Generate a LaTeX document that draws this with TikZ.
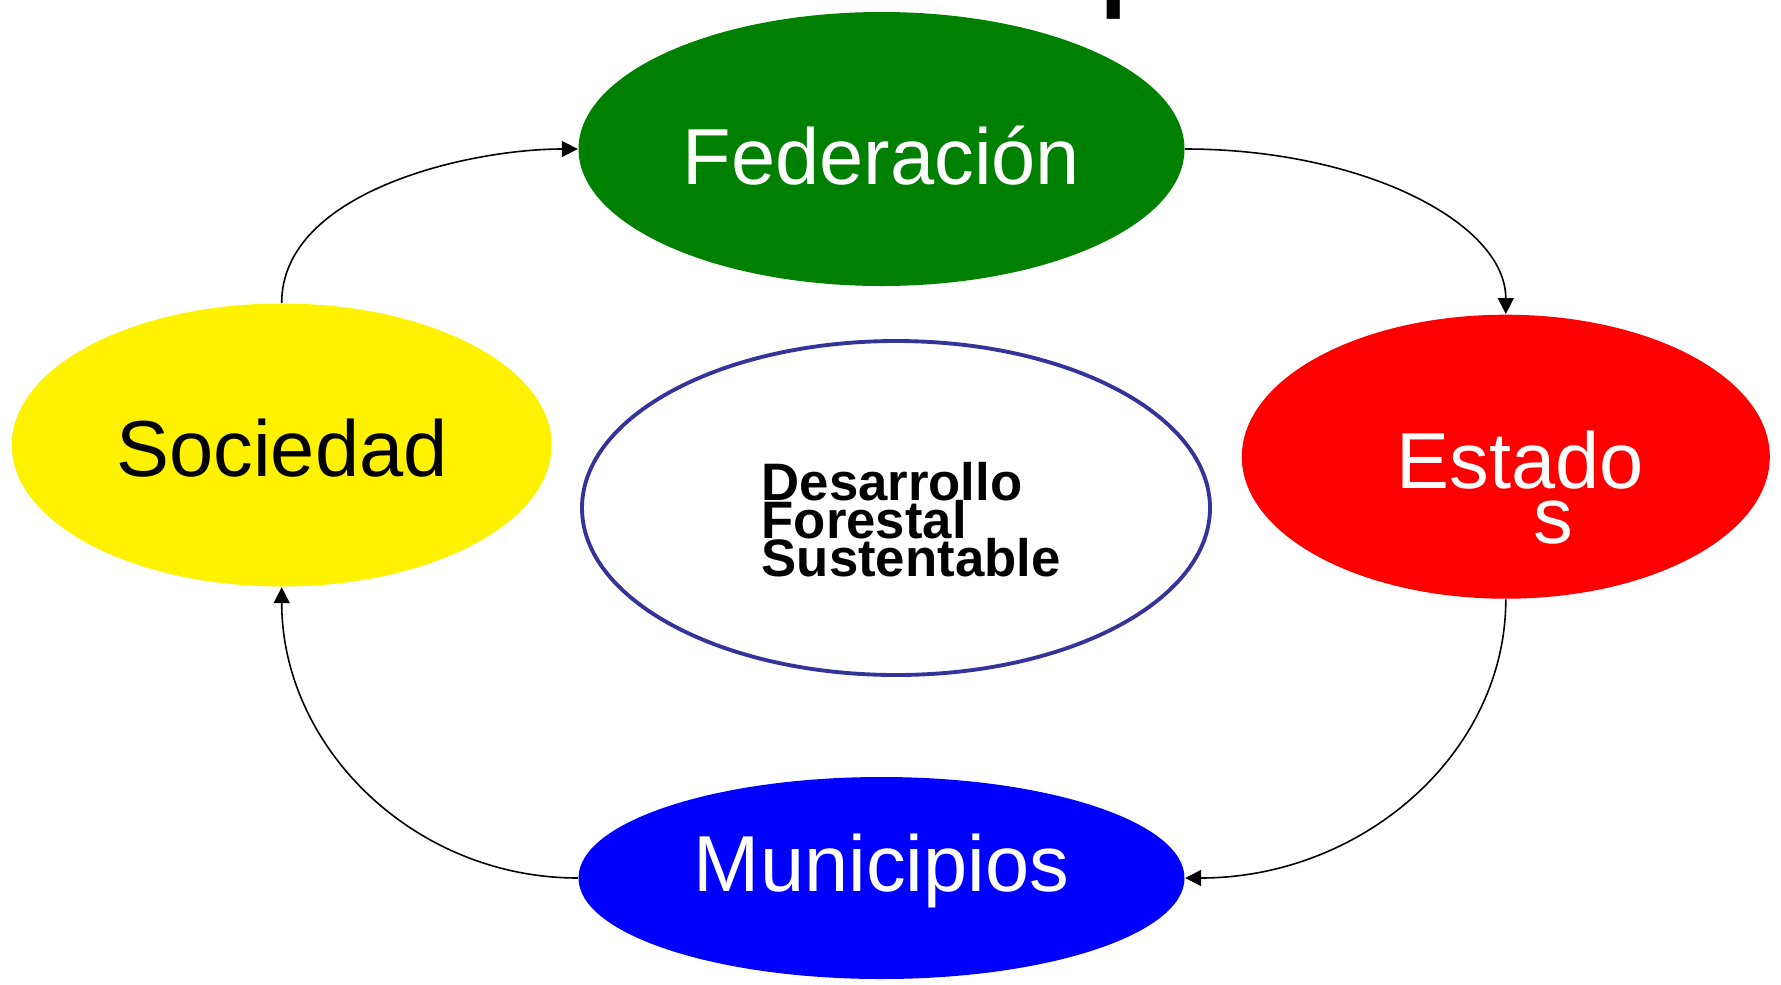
\documentclass[tikz,border=0pt]{standalone}
\usepackage{fontspec}
\setmainfont{Liberation Sans}
\usepackage{tikz}
\usetikzlibrary{arrows.meta,shapes.geometric}
\definecolor{fedgreen}{RGB}{0,128,0}
\definecolor{dfsblue}{RGB}{51,51,153}
\newcommand{\tightlines}{\lineskiplimit=-10pt\relax}
\tikzset{
  oval/.style={ellipse, inner sep=0pt},
  lbl/.style={font=\fontsize{22.6}{15.6}\selectfont, inner sep=0pt, anchor=base},
  flow/.style={-{Triangle[length=4.5pt,width=4.5pt]}, line width=0.45pt},
}

\begin{document}
\begin{tikzpicture}
\useasboundingbox (0,0) rectangle (17.81,-9.84);
\clip (0,0) rectangle (17.81,-9.84);
% title, only its lower edge is in the picture
\node[font=\fontsize{27.2}{33}\selectfont\bfseries, anchor=base, inner sep=0pt] (ttl) at (8.62,0.005) {Distribución de competencias};
% the five ovals
\node[oval, fill=fedgreen, minimum width=6.06cm, minimum height=2.74cm] (fed) at (8.815,-1.49) {};
\node[oval, fill=yellow, minimum width=5.40cm, minimum height=2.83cm] (soc) at (2.817,-4.45) {};
\node[oval, fill=red, minimum width=5.28cm, minimum height=2.84cm] (est) at (15.058,-4.567) {};
\node[oval, fill=blue, minimum width=6.06cm, minimum height=2.02cm] (mun) at (8.815,-8.78) {};
\node[oval, draw=dfsblue, line width=1.1pt, minimum width=6.28cm, minimum height=3.34cm] (dfs) at (8.96,-5.08) {};
% texts
\node[lbl, text=white] (fedlbl) at (8.815,-1.84) {Federación};
\node[lbl] (soclbl) at (2.82,-4.76) {Sociedad};
\node[lbl, text=white] (munlbl) at (8.815,-8.91) {Municipios};
\node[lbl, text=white, align=center, anchor=north] (estlbl) at (15.20,-4.307) {Estado\\\hspace*{0.85em}s};
\node[font=\fontsize{15}{10.7}\selectfont\bfseries\tightlines, align=left, anchor=north west, inner sep=0pt] (dfslbl) at (7.61,-4.62) {Desarrollo\\Forestal\\Sustentable};
% arrows round the cycle
\draw[flow] (soc.north) to [out=90,in=180,looseness=0.85] (fed.west);
\draw[flow] (fed.east) .. controls +(1.77,0) and +(0,0.915) .. (est.north);
\draw[flow] (est.south) .. controls +(0,-1.54) and +(1.77,0) .. (mun.east);
\draw[flow] (mun.west) .. controls +(-1.64,0) and +(0,-1.60) .. (soc.south);
\end{tikzpicture}
\end{document}
